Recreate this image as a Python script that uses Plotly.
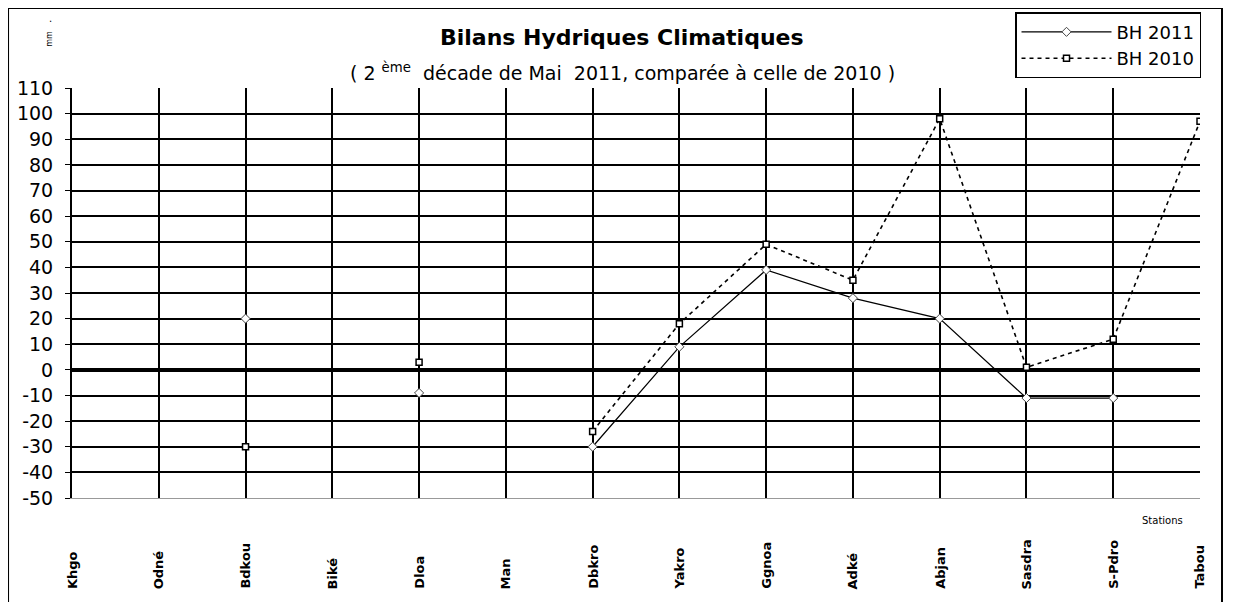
import plotly.graph_objects as go

stations = ["Khgo", "Odné", "Bdkou", "Biké", "Dloa", "Man", "Dbkro", "Yakro",
            "Ggnoa", "Adké", "Abjan", "Sasdra", "S-Pdro", "Tabou"]
bh_2011 = [None, None, 20, None, -9, None, -30, 9, 39, 28, 20, -11, -11, None]
bh_2010 = [None, None, -30, None, 3, None, -24, 18, 49, 35, 98, 1, 12, 97]
y_ticks = list(range(-50, 111, 10))

font = "Liberation Sans, Arial, sans-serif"
wide = "DejaVu Sans, Verdana, sans-serif"

fig = go.Figure()
fig.add_trace(go.Scatter(
    x=stations, y=bh_2011, name="BH 2011", mode="lines+markers",
    line=dict(color="black", width=1.2),
    marker=dict(symbol="diamond", size=7, color="white", line=dict(color="#444", width=1)),
))
fig.add_trace(go.Scatter(
    x=stations, y=bh_2010, name="BH 2010", mode="lines+markers",
    line=dict(color="black", width=1.6, dash="4px,4px"),
    marker=dict(symbol="square", size=6, color="white", line=dict(color="black", width=1.5)),
))

annotations = []
for s in stations:
    annotations.append(dict(x=s, xref="x", y=-0.227, yref="paper", text=f"<b>{s}</b>",
                            textangle=-90, showarrow=False, yanchor="bottom",
                            font=dict(family=wide, size=13, color="black")))
annotations += [
    dict(x=0.4876, xref="paper", y=1.122, yref="paper", text="<b>Bilans Hydriques Climatiques</b>",
         showarrow=False, font=dict(family=wide, size=22, color="black"), xanchor="center", yanchor="middle"),
    dict(x=0.4876, xref="paper", y=1.039, yref="paper",
         text="( 2 <sup>ème</sup>  décade de Mai  2011, comparée à celle de 2010 )",
         showarrow=False, font=dict(family=wide, size=19, color="black"), xanchor="center", yanchor="middle"),
    dict(x=0.987, xref="paper", y=-0.054, yref="paper", text="Stations",
         showarrow=False, font=dict(family=wide, size=10, color="black"), xanchor="right", yanchor="middle"),
    dict(x=-0.0195, xref="paper", y=1.12, yref="paper", text="mm", textangle=-90,
         showarrow=False, font=dict(family=wide, size=8, color="black"), xanchor="center", yanchor="middle"),
    dict(x=-0.0195, xref="paper", y=1.17, yref="paper", text=".",
         showarrow=False, font=dict(family=wide, size=10, color="black"), xanchor="center", yanchor="middle"),
]

fig.update_layout(
    width=1225, height=594,
    margin=dict(l=64, r=33, t=80, b=104, autoexpand=False),
    paper_bgcolor="white", plot_bgcolor="white",
    font=dict(family=font, color="black"),
    showlegend=True,
    legend=dict(x=0.836, y=1.185, xanchor="left", yanchor="top",
                bordercolor="black", borderwidth=1.5, bgcolor="white",
                font=dict(family=wide, size=18, color="black"),
                tracegroupgap=0, itemwidth=90),
    annotations=annotations,
    shapes=[dict(type="rect", xref="paper", yref="paper",
                 x0=-0.0567, x1=1.0195, y0=-0.27, y1=1.195,
                 line=dict(color="black", width=2), layer="below")],
)
fig.update_xaxes(
    type="category", categoryorder="array", categoryarray=stations,
    range=[0, len(stations) - 1], showticklabels=False,
    showgrid=True, gridcolor="black", gridwidth=1.5,
    showline=True, linecolor="#999", linewidth=1, mirror=False,
    zeroline=False,
)
fig.update_yaxes(
    range=[-50, 110], tickvals=y_ticks, ticktext=[str(v) for v in y_ticks],
    showgrid=True, gridcolor="black", gridwidth=1.5,
    zeroline=True, zerolinecolor="black", zerolinewidth=3.5,
    showline=True, linecolor="black", linewidth=2,
    ticks="outside", ticklen=5, tickcolor="black", ticklabelstandoff=8,
    tickfont=dict(family=wide, size=19, color="black"),
)
fig.write_html("out.html")
